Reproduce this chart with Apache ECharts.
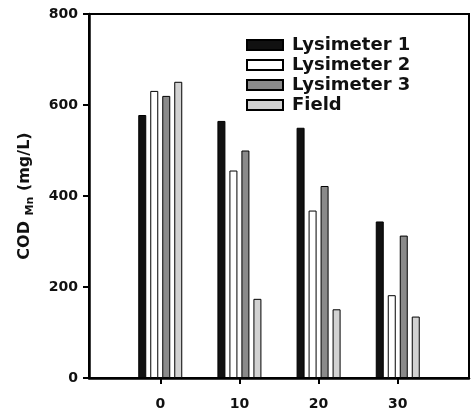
<!DOCTYPE html>
<html>
<head>
<meta charset="utf-8">
<script src="https://cdn.jsdelivr.net/npm/echarts@6/dist/echarts.min.js"></script>
<style>
  html, body { margin: 0; padding: 0; background: #fff; }
  #chart { width: 471px; height: 412px; }
</style>
</head>
<body>
<div id="chart"></div>
<script>
// days after start (x positions of the bar groups)
const days = [0, 10, 20, 30];
const seriesNames = ['Lysimeter 1', 'Lysimeter 2', 'Lysimeter 3', 'Field'];
const lysimeter1 = [578, 565, 550, 344];
const lysimeter2 = [631, 456, 368, 182];
const lysimeter3 = [620, 500, 422, 313];
const field = [651, 174, 151, 135];
const yTicks = [0, 200, 400, 600, 800];

const fills = ['#111111', '#ffffff', '#8a8a8a', '#d2d2d2'];
const font = 'DejaVu Sans';

let chart = echarts.init(document.getElementById('chart'));

let makeSeries = (name, values, color) => ({
    name: name,
    type: 'bar',
    barWidth: 8,
    barGap: '50%',
    itemStyle: {
        color: color,
        borderColor: '#000',
        borderWidth: 1
    },
    data: days.map((d, i) => [d, values[i]])
});

let option = {
    animation: false,
    grid: {
        left: 89,
        right: 2,
        top: 14,
        bottom: 34,
        show: true,
        borderColor: '#000',
        borderWidth: 2
    },
    legend: {
        orient: 'vertical',
        left: 241,
        top: 31,
        itemWidth: 36,
        itemHeight: 10,
        itemGap: 2,
        icon: 'rect',
        textStyle: {
            fontFamily: font,
            fontWeight: 'bold',
            fontSize: 18,
            lineHeight: 18,
            color: '#111',
            padding: [0, 0, 0, 4]
        },
        data: seriesNames
    },
    xAxis: {
        type: 'value',
        min: -9,
        max: 39,
        splitLine: { show: false },
        axisLine: { onZero: false, lineStyle: { color: '#000', width: 2.5 } },
        axisTick: {
            customValues: days,
            length: 6,
            lineStyle: { color: '#000', width: 2 }
        },
        axisLabel: {
            customValues: days,
            margin: 19,
            fontFamily: font,
            fontWeight: 'bold',
            fontSize: 14,
            color: '#111'
        }
    },
    yAxis: {
        type: 'value',
        min: 0,
        max: 800,
        interval: 200,
        name: '{a|COD }{sub|Mn}{a| (mg/L)}',
        nameLocation: 'middle',
        nameGap: 56,
        nameTextStyle: {
            rich: {
                a: {
                    fontFamily: font,
                    fontWeight: 'bold',
                    fontSize: 16,
                    lineHeight: 16,
                    color: '#111',
                    verticalAlign: 'top'
                },
                sub: {
                    fontFamily: font,
                    fontWeight: 'bold',
                    fontSize: 11,
                    lineHeight: 11,
                    color: '#111',
                    verticalAlign: 'top',
                    padding: [8, 0, 0, 0]
                }
            }
        },
        splitLine: { show: false },
        axisLine: { show: true, onZero: false, lineStyle: { color: '#000', width: 2.5 } },
        axisTick: {
            show: true,
            length: 6,
            lineStyle: { color: '#000', width: 2 }
        },
        axisLabel: {
            margin: 11,
            fontFamily: font,
            fontWeight: 'bold',
            fontSize: 14,
            color: '#111',
            formatter: v => (yTicks.indexOf(v) > -1 ? String(v) : '')
        }
    },
    series: [
        makeSeries(seriesNames[0], lysimeter1, fills[0]),
        makeSeries(seriesNames[1], lysimeter2, fills[1]),
        makeSeries(seriesNames[2], lysimeter3, fills[2]),
        makeSeries(seriesNames[3], field, fills[3])
    ]
};
chart.setOption(option);
</script>
</body>
</html>
